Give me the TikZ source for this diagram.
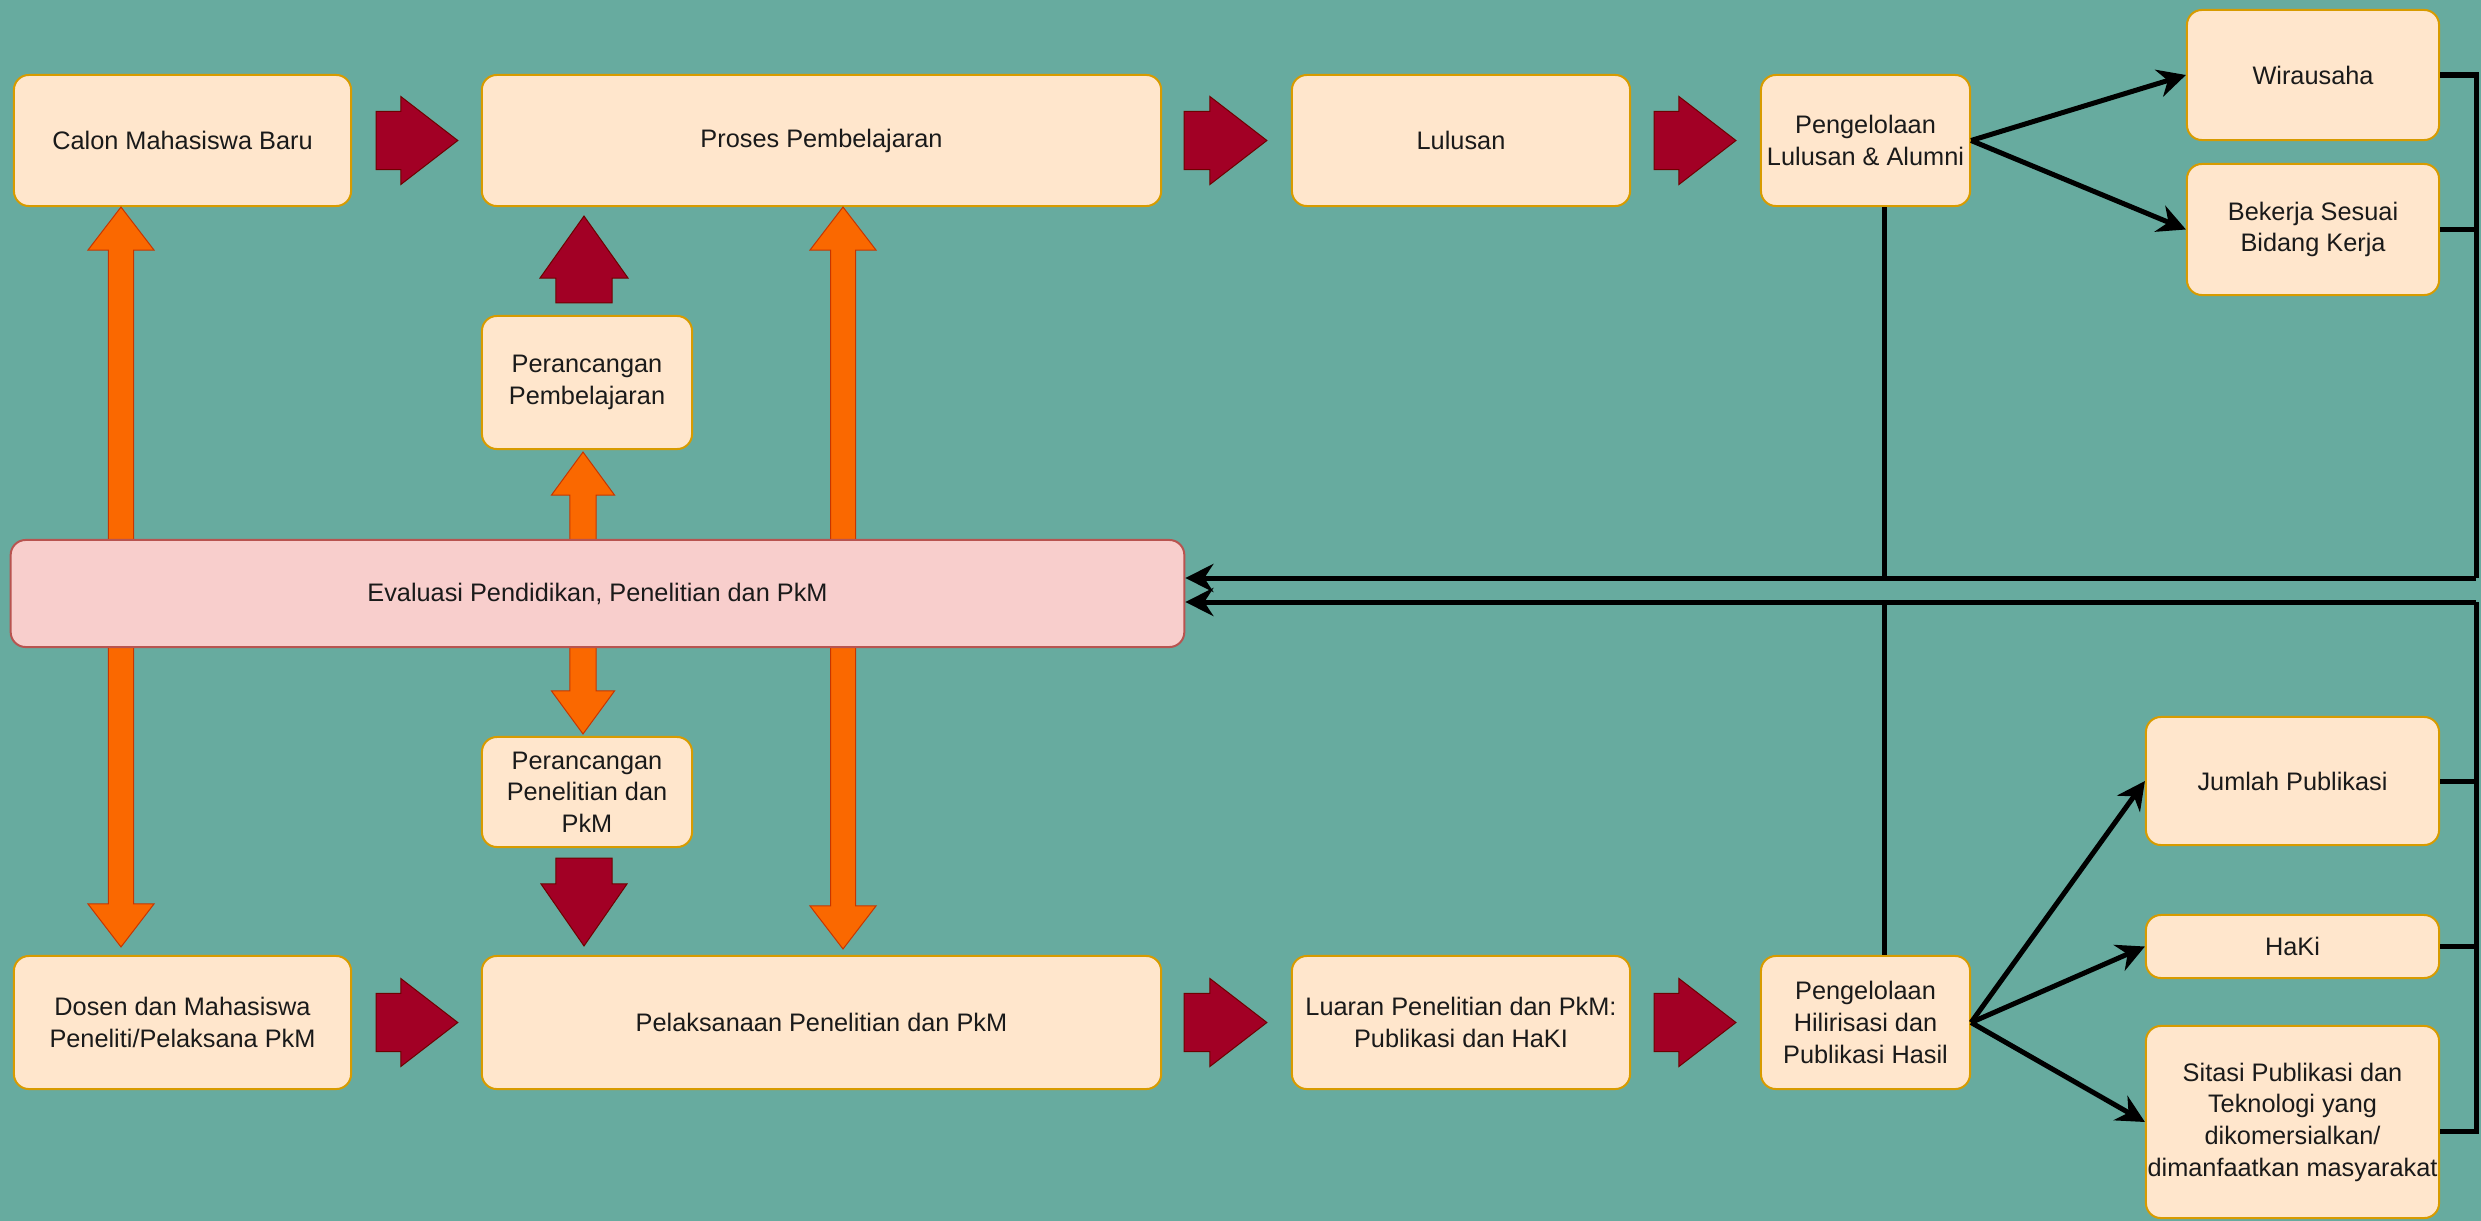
\documentclass[tikz,border=0pt]{standalone}
\usepackage{fontspec}
\setmainfont{Liberation Sans}
\usetikzlibrary{calc,arrows.meta}
\definecolor{bgteal}{HTML}{67AB9F}
\definecolor{boxfill}{HTML}{FFE6CC}
\definecolor{boxline}{HTML}{D79B00}
\definecolor{evalfill}{HTML}{F8CECC}
\definecolor{evalline}{HTML}{B85450}
\definecolor{redfill}{HTML}{A20025}
\definecolor{redline}{HTML}{6F0000}
\definecolor{orafill}{HTML}{FA6800}
\definecolor{oraline}{HTML}{C73500}
\definecolor{txt}{HTML}{1A1A1A}
\tikzset{
  box/.style={draw=boxline, fill=boxfill, line width=0.02cm, rounded corners=0.15cm,
    inner sep=0pt, align=center, text=txt, font=\fontsize{7.2}{9}\selectfont},
  evalbox/.style={box, draw=evalline, fill=evalfill},
  redarrow/.style={fill=redfill, draw=redline, line width=0.01cm, line join=miter},
  oraarrow/.style={fill=orafill, draw=oraline, line width=0.01cm, line join=miter},
  blk/.style={draw=black, line width=0.05cm, line join=miter},
  blkarr/.style={blk, -{Stealth[length=0.28cm,width=0.28cm]}}
}
% single-headed block arrow: style, start, end, half shaft, half head, head length
\newcommand{\barrow}[6]{%
  \coordinate (ba-s) at #2; \coordinate (ba-e) at #3;
  \coordinate (ba-h) at ($(ba-e)!#6!(ba-s)$);
  \draw[#1] ($(ba-s)!#4!90:(ba-e)$) -- ($(ba-h)!#4!90:(ba-e)$) -- ($(ba-h)!#5!90:(ba-e)$)
    -- (ba-e) -- ($(ba-h)!#5!-90:(ba-e)$) -- ($(ba-h)!#4!-90:(ba-e)$)
    -- ($(ba-s)!#4!-90:(ba-e)$) -- cycle;}
% double-headed block arrow
\newcommand{\darrow}[6]{%
  \coordinate (da-a) at #2; \coordinate (da-b) at #3;
  \coordinate (da-h1) at ($(da-a)!#6!(da-b)$);
  \coordinate (da-h2) at ($(da-b)!#6!(da-a)$);
  \draw[#1] (da-a) -- ($(da-h1)!#5!90:(da-b)$) -- ($(da-h1)!#4!90:(da-b)$)
    -- ($(da-h2)!#4!90:(da-b)$) -- ($(da-h2)!#5!90:(da-b)$) -- (da-b)
    -- ($(da-h2)!#5!-90:(da-b)$) -- ($(da-h2)!#4!-90:(da-b)$)
    -- ($(da-h1)!#4!-90:(da-b)$) -- ($(da-h1)!#5!-90:(da-b)$) -- cycle;}
\begin{document}
\begin{tikzpicture}[x=0.01cm, y=-0.01cm]
\fill[bgteal] (0,0) rectangle (2481,1221);
\useasboundingbox (0,0) rectangle (2481,1221);

% top row
\node[box, minimum width=3.37cm, minimum height=1.31cm] (calon) at (182.5,140.5) {Calon Mahasiswa Baru};
\node[box, minimum width=6.79cm, minimum height=1.31cm] (proses) at (821.5,140.5) {Proses Pembelajaran};
\node[box, minimum width=3.38cm, minimum height=1.31cm] (lulusan) at (1461,140.5) {Lulusan};
\node[box, minimum width=2.09cm, minimum height=1.31cm] (pla) at (1865.5,140.5) {Pengelolaan\\Lulusan \& Alumni};
\node[box, minimum width=2.52cm, minimum height=1.30cm] (wira) at (2313,75) {Wirausaha};
\node[box, minimum width=2.52cm, minimum height=1.31cm] (bekerja) at (2313,229.5) {Bekerja Sesuai\\Bidang Kerja};
\node[box, minimum width=2.10cm, minimum height=1.33cm] (pp) at (587,382.5) {Perancangan\\Pembelajaran};

% bottom row
\node[box, minimum width=2.10cm, minimum height=1.10cm] (ppen) at (587,792) {Perancangan\\Penelitian dan\\PkM};
\node[box, minimum width=3.37cm, minimum height=1.33cm] (dosen) at (182.5,1022.5) {Dosen dan Mahasiswa\\Peneliti/Pelaksana PkM};
\node[box, minimum width=6.79cm, minimum height=1.33cm] (pel) at (821.5,1022.5) {Pelaksanaan Penelitian dan PkM};
\node[box, minimum width=3.38cm, minimum height=1.33cm] (luaran) at (1461,1022.5) {Luaran Penelitian dan PkM:\\Publikasi dan HaKI};
\node[box, minimum width=2.09cm, minimum height=1.33cm] (phil) at (1865.5,1022.5) {Pengelolaan\\Hilirisasi dan\\Publikasi Hasil};
\node[box, minimum width=2.93cm, minimum height=1.28cm] (jumlah) at (2292.5,781) {Jumlah Publikasi};
\node[box, minimum width=2.93cm, minimum height=0.63cm] (haki) at (2292.5,946.5) {HaKi};
\node[box, minimum width=2.93cm, minimum height=1.92cm] (sitasi) at (2292.5,1122) {Sitasi Publikasi dan\\Teknologi yang\\dikomersialkan/\\dimanfaatkan masyarakat};

% orange double arrows (behind evaluation box)
\darrow{oraarrow}{($(calon.south)+(-61.5,0)$)}{($(dosen.north)+(-61.5,-8)$)}{0.125cm}{0.33cm}{0.43cm}
\darrow{oraarrow}{($(proses.south)+(21.5,0)$)}{($(pel.north)+(21.5,-6)$)}{0.125cm}{0.33cm}{0.43cm}
\darrow{oraarrow}{($(pp.south)+(-4,2)$)}{($(ppen.north)+(-4,-2)$)}{0.13cm}{0.315cm}{0.43cm}

% evaluation box
\node[evalbox, minimum width=11.73cm, minimum height=1.07cm] (eval) at (597.5,593.5) {Evaluasi Pendidikan, Penelitian dan PkM};

% red block arrows
\barrow{redarrow}{($(calon.east)+(24,0)$)}{($(proses.west)+(-23,0)$)}{0.29cm}{0.44cm}{0.57cm}
\barrow{redarrow}{($(proses.east)+(22,0)$)}{($(lulusan.west)+(-24,0)$)}{0.29cm}{0.44cm}{0.57cm}
\barrow{redarrow}{($(lulusan.east)+(23,0)$)}{($(pla.west)+(-24,0)$)}{0.29cm}{0.44cm}{0.57cm}
\barrow{redarrow}{($(dosen.east)+(24,0)$)}{($(pel.west)+(-23,0)$)}{0.29cm}{0.44cm}{0.57cm}
\barrow{redarrow}{($(pel.east)+(22,0)$)}{($(luaran.west)+(-24,0)$)}{0.29cm}{0.44cm}{0.57cm}
\barrow{redarrow}{($(luaran.east)+(23,0)$)}{($(phil.west)+(-24,0)$)}{0.29cm}{0.44cm}{0.57cm}
\barrow{redarrow}{($(pp.north)+(-3,-12)$)}{($(pp.north|-proses.south)+(-3,9)$)}{0.28cm}{0.44cm}{0.62cm}
\barrow{redarrow}{($(ppen.south)+(-3,10)$)}{($(ppen.south|-pel.north)+(-3,-9)$)}{0.28cm}{0.43cm}{0.62cm}

% black connectors
\draw[blkarr] (pla.east) -- (wira.west);
\draw[blkarr] (pla.east) -- (bekerja.west);
\draw[blkarr] (phil.east) -- (jumlah.west);
\draw[blkarr] (phil.east) -- (haki.west);
\draw[blkarr] (phil.east) -- (sitasi.west);

\coordinate (busU) at (2476,578);
\coordinate (busL) at (2476,602);
\draw[blk] (wira.east) -| (busU);
\draw[blk] (bekerja.east) -- (bekerja.east -| busU);
\draw[blkarr] (busU) -- (eval.east |- busU);
\draw[blk] ($(sitasi.east)+(0,9)$) -| (busL);
\draw[blk] (jumlah.east) -- (jumlah.east -| busL);
\draw[blk] (haki.east) -- (haki.east -| busL);
\draw[blkarr] (busL) -- (eval.east |- busL);
\coordinate (vU) at ($(pla.south)+(18.5,0)$);
\coordinate (vL) at ($(phil.north)+(18.5,0)$);
\draw[blk] (vU) -- (vU |- busU);
\draw[blk] (vL) -- (vL |- busL);
\end{tikzpicture}
\end{document}
